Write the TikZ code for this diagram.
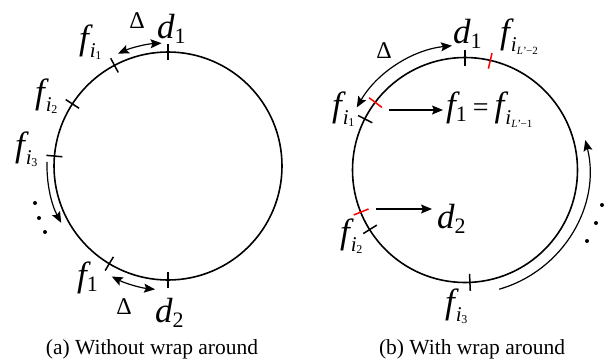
\documentclass[tikz,border=0pt]{standalone}
\usepackage{fontspec}
\setmainfont{Liberation Serif}
\usetikzlibrary{arrows.meta}
\newcommand\Fa{\fontsize{35}{35}\selectfont}
\newcommand\mf{{\Fa\itshape f}}
\newcommand\md{{\Fa\itshape d}}
\newcommand\dsub[1]{\raisebox{-5pt}{\fontsize{22}{22}\selectfont #1}}
\newcommand\isub[1]{\kern1pt\raisebox{-8pt}{\fontsize{21}{21}\selectfont\itshape i\kern-0.5pt\raisebox{-2pt}{\fontsize{12}{12}\selectfont\upshape #1}}}
\newcommand\isubL[1]{\kern1pt\raisebox{-8pt}{\fontsize{21}{21}\selectfont\itshape i\raisebox{-3pt}{\fontsize{11}{11}\selectfont #1}}}
\newcommand\Dl{{\fontsize{24}{24}\selectfont Δ}}
\begin{document}
\begin{tikzpicture}[x=1pt,y=-1pt,
  circ/.style={line width=1.6pt},
  tick/.style={line width=1.5pt},
  rtick/.style={line width=1.5pt,red},
  arr/.style={line width=1.2pt,-{Stealth[length=11pt,width=9pt,inset=2pt]}},
  darr/.style={line width=1.2pt,{Stealth[length=11pt,width=9pt,inset=2pt]}-{Stealth[length=11pt,width=9pt,inset=2pt]}},
  lab/.style={anchor=base west,inner sep=0pt},
  dlab/.style={inner sep=0pt},
  captext/.style={anchor=base,inner sep=0pt,font=\fontsize{21.5}{24}\selectfont},
  dot/.style={fill=black}]
\useasboundingbox (0,0) rectangle (612,362);

% ---------- (a) ----------
\coordinate (CA) at (168,166);
\draw[circ] (CA) circle[radius=114pt];
\begin{scope}[shift={(CA)}]
  \draw[tick] (90:106pt) -- (90:122pt);
  \draw[tick] (118:106pt) -- (118:122pt);
  \draw[tick] (147:106pt) -- (147:122pt);
  \draw[tick] (175:106pt) -- (175:122pt);
  \draw[tick] (239:106pt) -- (239:122pt);
  \draw[tick] (270:106pt) -- (270:122pt);
  \draw[darr] (93:123pt) arc[start angle=93,end angle=114,radius=123pt];
  \draw[darr] (243:124pt) arc[start angle=243,end angle=264,radius=124pt];
  \draw[arr] (178:121pt) arc[start angle=178,end angle=208,radius=121pt];
\end{scope}
\fill[dot] (35,203) circle[radius=2pt];
\fill[dot] (39,218) circle[radius=2pt];
\fill[dot] (45,232) circle[radius=2pt];

\node[lab] (fi1a) at (79,49) {\mf\isub{1}};
\node[lab] (d1a) at (157,38) {\md\dsub{1}};
\node[dlab] (D1a) at (137,21) {\Dl};
\node[lab] (fi2a) at (35,103) {\mf\isub{2}};
\node[lab] (fi3a) at (15,156) {\mf\isub{3}};
\node[lab] (f1a) at (77,286) {\mf\dsub{1}};
\node[dlab] (D2a) at (124,307) {\Dl};
\node[lab] (d2a) at (155,322) {\md\dsub{2}};
\node[captext] (capa) at (152,354) {(a) Without wrap around};

% ---------- (b) ----------
\coordinate (CB) at (465,170);
\draw[circ] (CB) circle[radius=112.5pt];
\begin{scope}[shift={(CB)}]
  \draw[tick] (90:104pt) -- (90:120pt);
  \draw[rtick] (77:104pt) -- (77:120pt);
  \draw[rtick] (143:104pt) -- (143:120pt);
  \draw[tick] (153:104pt) -- (153:120pt);
  \draw[rtick] (202:104pt) -- (202:120pt);
  \draw[tick] (212:104pt) -- (212:120pt);
  \draw[tick] (-87.5:104pt) -- (-87.5:121pt);
  \draw[darr] (96:125pt) arc[start angle=96,end angle=150,radius=125pt];
  \draw[arr] (-74:124pt) arc[start angle=-74,end angle=14,radius=124pt];
\end{scope}
\fill[dot] (602,205) circle[radius=2pt];
\fill[dot] (596,223) circle[radius=2pt];
\fill[dot] (587,241) circle[radius=2pt];

\coordinate (s1) at (389,110);
\coordinate (e1) at (443,110);
\coordinate (s2) at (376,209);
\coordinate (e2) at (432,209);
\node[lab] (eqb) at (446,116) {\mf\dsub{1}\kern6pt{\fontsize{28}{28}\selectfont =}\kern6pt\mf\isubL{\itshape L'\upshape −1}};
\node[lab] (d2b) at (437,228) {\md\dsub{2}};
\draw[arr] (s1) -- (e1);
\draw[arr] (s2) -- (e2);

\node[lab] (d1b) at (453,43) {\md\dsub{1}};
\node[lab] (fiL2b) at (500,43) {\mf\isubL{\itshape L'\upshape −2}};
\node[dlab] (Db) at (384,51) {\Dl};
\node[lab] (fi1b) at (332,116) {\mf\isub{1}};
\node[lab] (fi2b) at (340,243) {\mf\isub{2}};
\node[lab] (fi3b) at (445,313) {\mf\isub{3}};
\node[captext] (capb) at (472,354) {(b) With wrap around};
\end{tikzpicture}
\end{document}
